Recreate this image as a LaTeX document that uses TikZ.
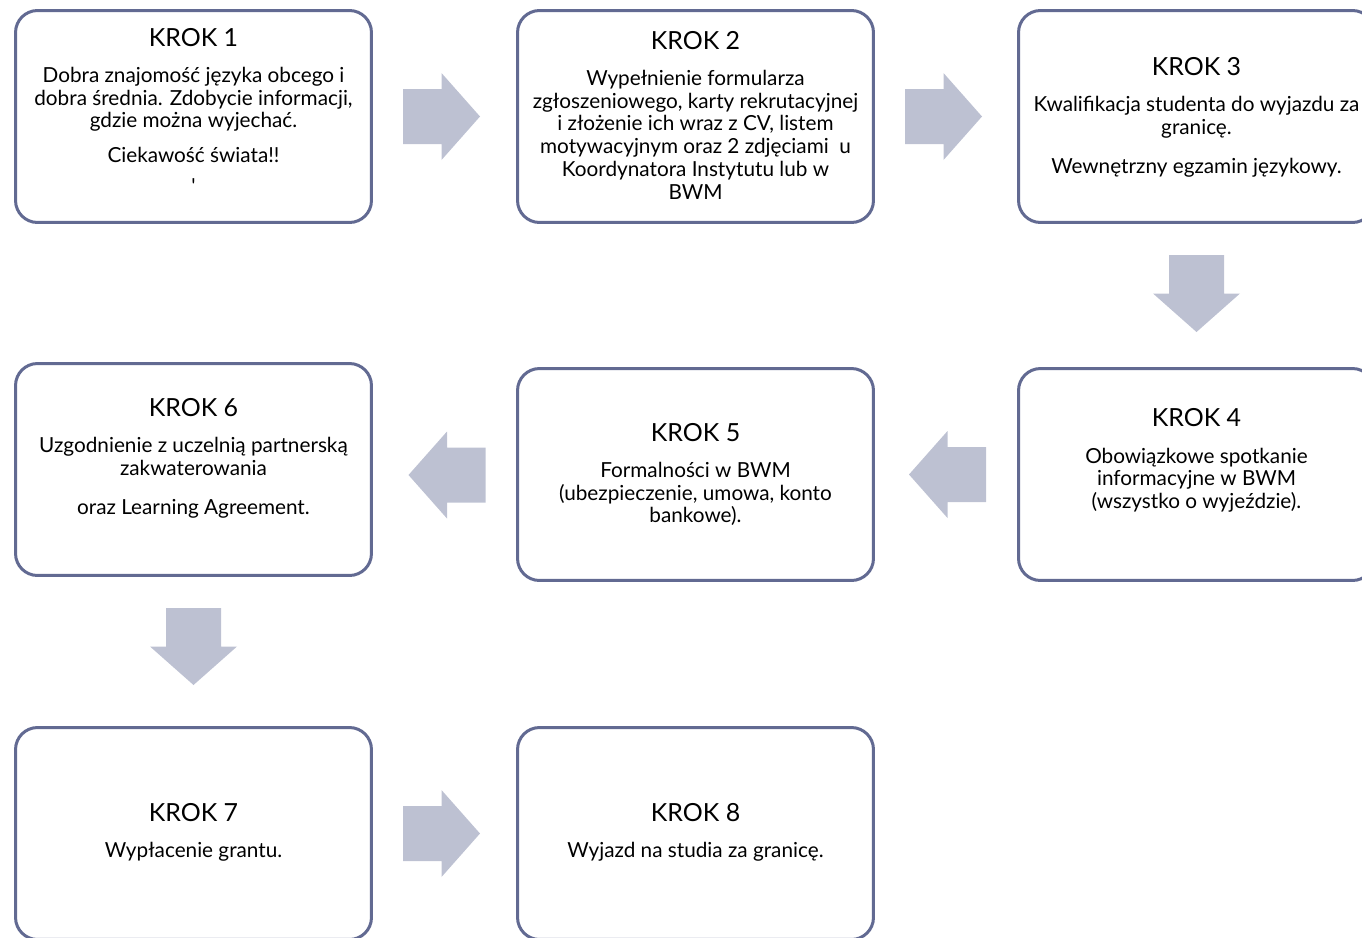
\documentclass[tikz,border=0pt]{standalone}
\usepackage{fontspec}
\setmainfont{Lato}
\usepackage{tikz}
\usetikzlibrary{calc}
\definecolor{ramka}{RGB}{98,106,146}
\definecolor{strzalka}{RGB}{189,193,210}
\newcommand{\tytul}[1]{{\fontsize{14.2}{16}\selectfont KROK #1}}
\newcommand{\trescfont}{\fontsize{11.8}{13}\selectfont\setlength{\lineskiplimit}{-10pt}}

\begin{document}
\begin{tikzpicture}[x=0.02cm, y=0.02cm,
  krok/.style={draw=ramka, line width=0.06cm, rounded corners=0.44cm, fill=white,
    minimum width=7.12cm, minimum height=4.24cm, inner sep=0pt},
  tresc/.style={anchor=north, align=center, inner sep=0pt, font=\trescfont},
  blok/.pic={\fill[strzalka] (-38.5,-27.5) -- (0,-27.5) -- (0,-43.5) -- (38.5,0)
    -- (0,43.5) -- (0,27.5) -- (-38.5,27.5) -- cycle;}]
  \useasboundingbox (0,0) rectangle (1362,-937);
  \clip (0,0) rectangle (1362,-937);

  % boxes
  \node[krok] (k1) at (193.5,-116.5) {};
  \node[krok] (k2) at (695.5,-116.5) {};
  \node[krok] (k3) at (1196.5,-116.5) {};
  \node[krok] (k4) at (1196.5,-474.5) {};
  \node[krok] (k5) at (695.5,-474.5) {};
  \node[krok] (k6) at (193.5,-469.5) {};
  \node[krok] (k7) at (193.5,-833.5) {};
  \node[krok] (k8) at (695.5,-833.5) {};

  % texts
  \node[tresc] (t1) at ($(k1.north)+(0,-19)$)
    {\tytul{1}\\[7.4pt]
     Dobra znajomość języka obcego i\\
     dobra średnia. Zdobycie informacji,\\
     gdzie można wyjechać.\\[6.5pt]
     Ciekawość świata!!\\[5pt]
     \textquotesingle};
  \node[tresc] (t2) at ($(k2.north)+(0,-22)$)
    {\tytul{2}\\[7.4pt]
     Wypełnienie formularza\\
     zgłoszeniowego, karty rekrutacyjnej\\
     i złożenie ich wraz z CV, listem\\
     motywacyjnym oraz 2 zdjęciami\ \ u\\
     Koordynatora Instytutu lub w\\
     BWM};
  \node[tresc] (t3) at ($(k3.north)+(0,-48)$)
    {\tytul{3}\\[7.4pt]
     Kwalifikacja studenta do wyjazdu za\\
     granicę.\\[9.5pt]
     Wewnętrzny egzamin językowy.};
  \node[tresc] (t4) at ($(k4.north)+(0,-41)$)
    {\tytul{4}\\[7.8pt]
     Obowiązkowe spotkanie\\
     informacyjne w BWM\\
     (wszystko o wyjeździe).};
  \node[tresc] (t5) at ($(k5.north)+(0,-56)$)
    {\tytul{5}\\[7.4pt]
     Formalności w BWM\\
     (ubezpieczenie, umowa, konto\\
     bankowe).};
  \node[tresc] (t6) at ($(k6.north)+(0,-36)$)
    {\tytul{6}\\[7.4pt]
     Uzgodnienie z uczelnią partnerską\\
     zakwaterowania\\[9.5pt]
     oraz Learning Agreement.};
  \node[tresc] (t7) at ($(k7.north)+(0,-77)$)
    {\tytul{7}\\[7.4pt]
     Wypłacenie grantu.};
  \node[tresc] (t8) at ($(k8.north)+(0,-77)$)
    {\tytul{8}\\[7.4pt]
     Wyjazd na studia za granicę.};

  % arrows
  \pic at ($(k1.east)!0.5!(k2.west)+(-3,0)$) {blok};
  \pic at ($(k2.east)!0.5!(k3.west)+(-2.5,0)$) {blok};
  \pic[rotate=-90] at ($(k3.south)!0.5!(k4.north)+(0,2)$) {blok};
  \pic[rotate=180] at ($(k5.east)!0.5!(k4.west)+(1.5,0)$) {blok};
  \pic[rotate=180] at ($(k6.east)!0.5!(k5.west)+(2.5,-3)$) {blok};
  \pic[rotate=-90] at ($(k6.south)!0.5!(k7.north)+(0,5)$) {blok};
  \pic at ($(k7.east)!0.5!(k8.west)+(-3,0)$) {blok};
\end{tikzpicture}
\end{document}
